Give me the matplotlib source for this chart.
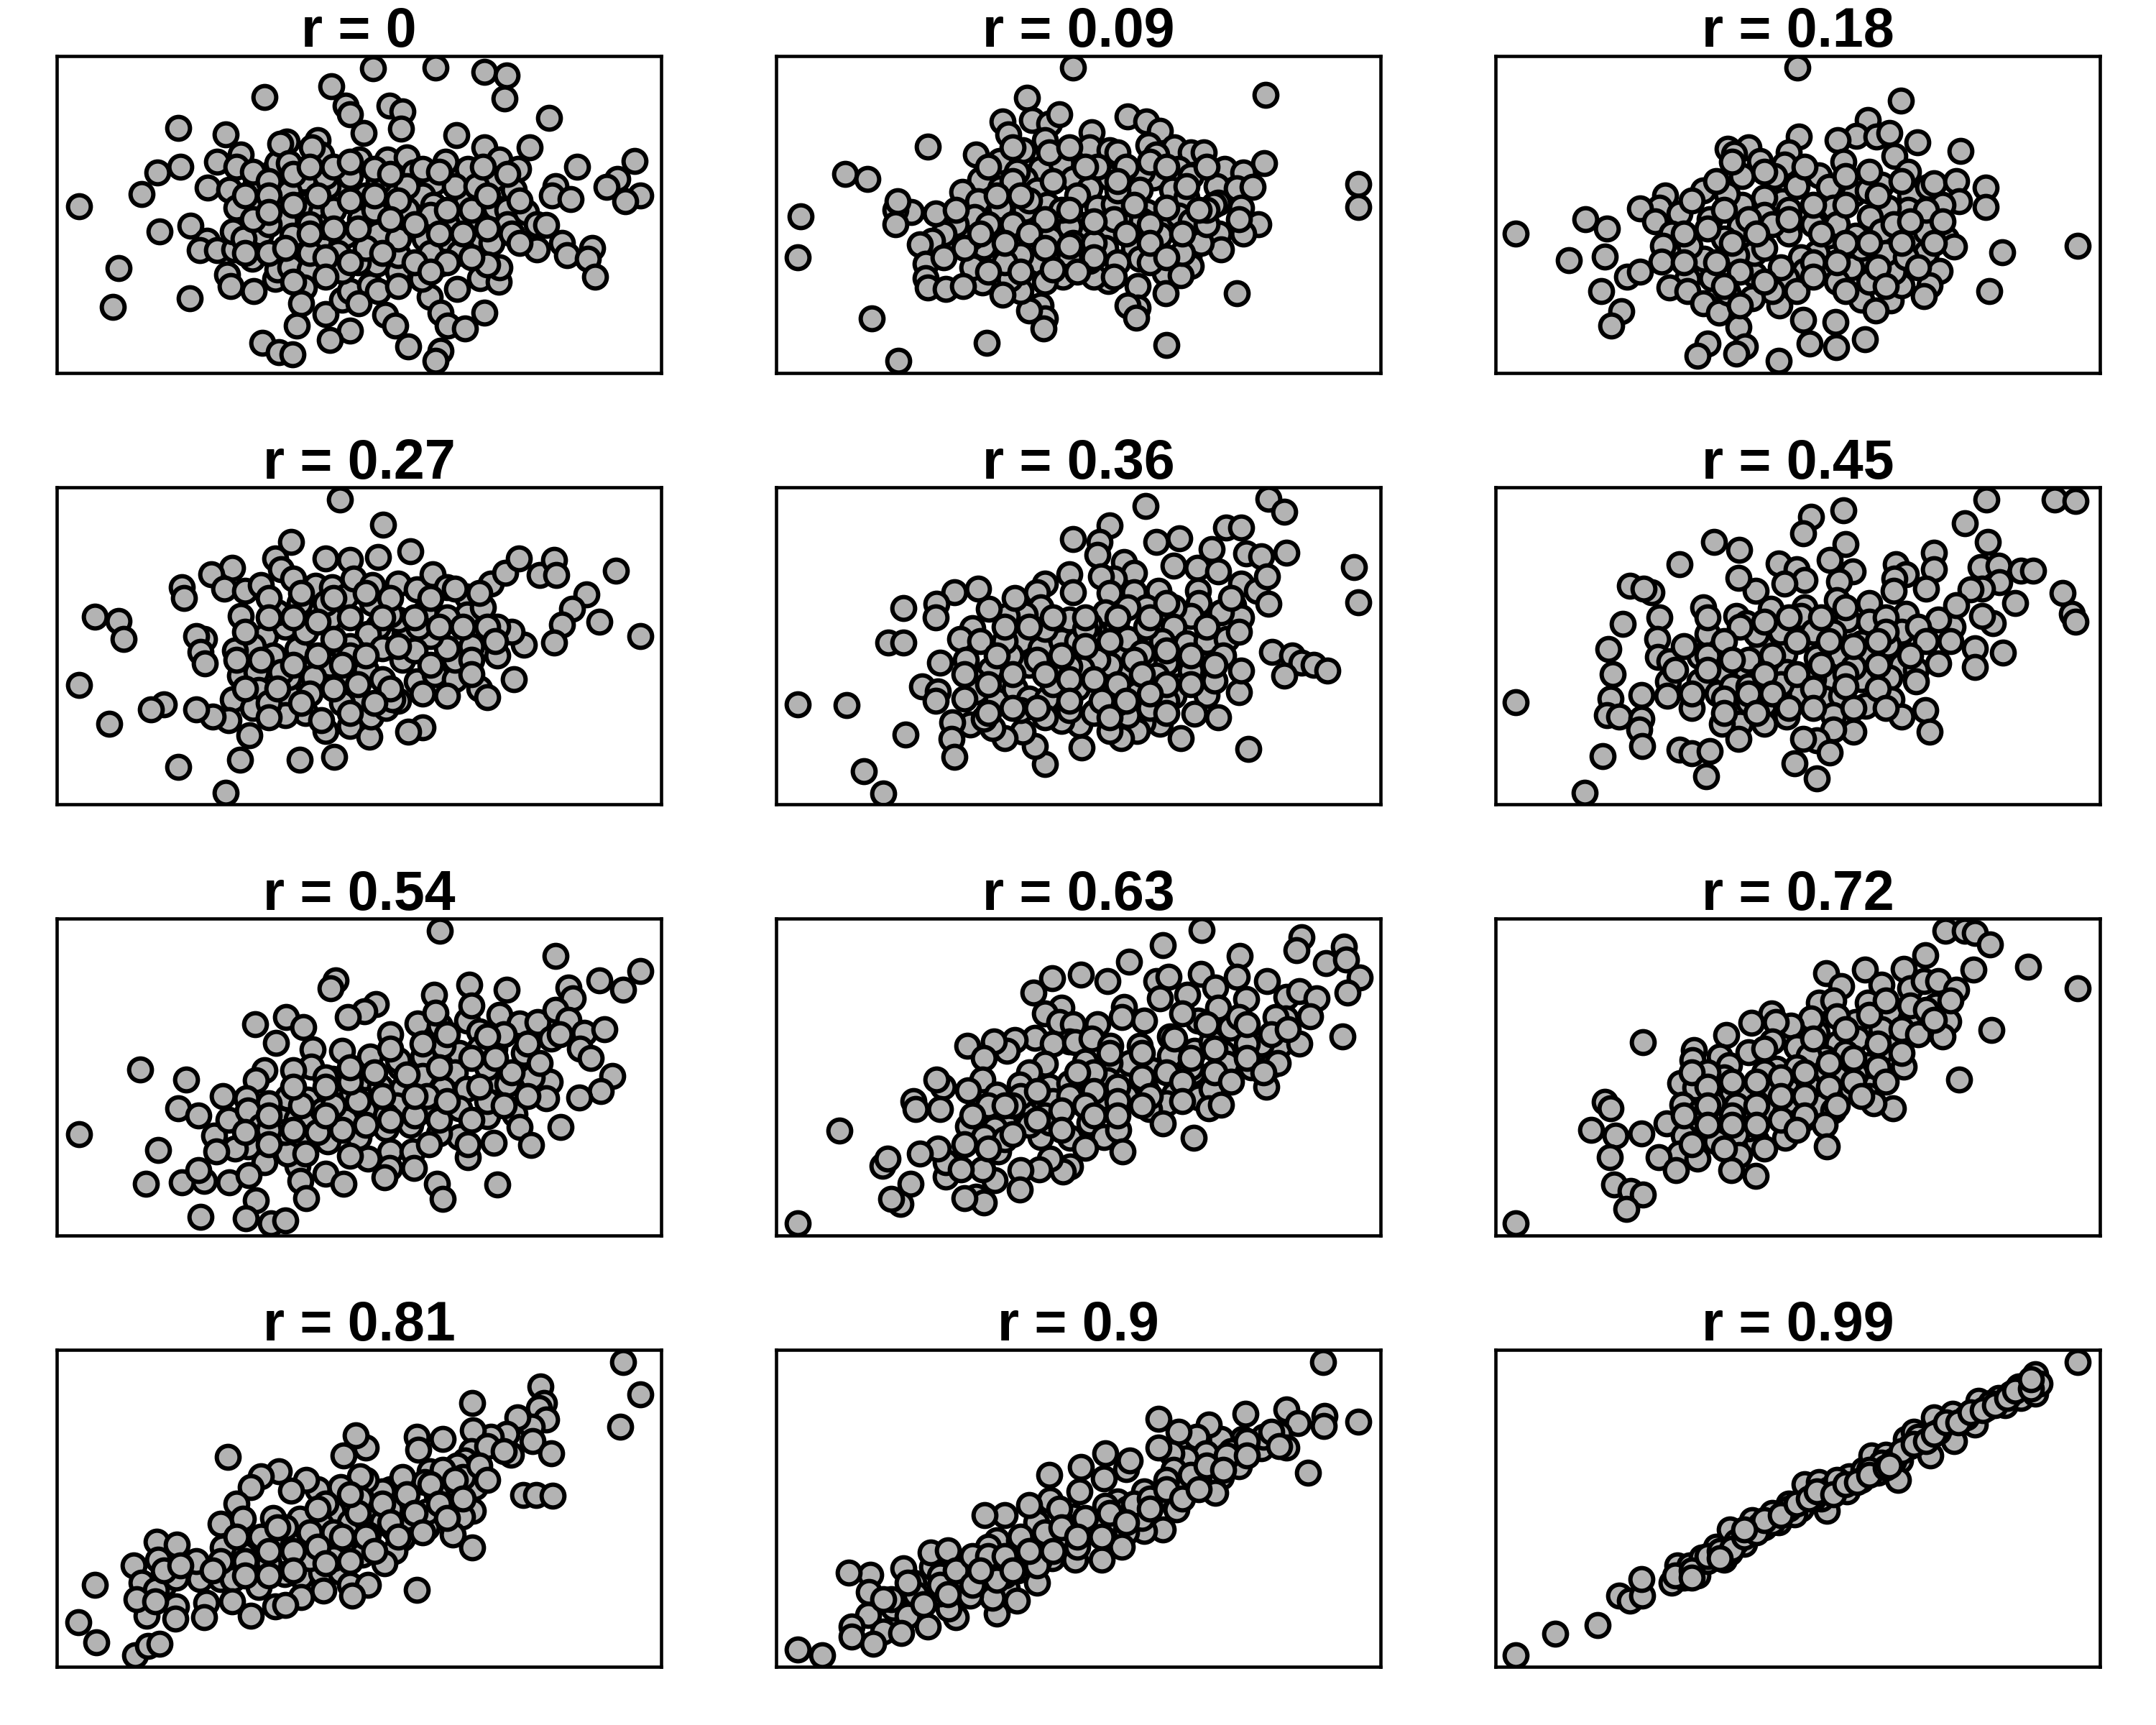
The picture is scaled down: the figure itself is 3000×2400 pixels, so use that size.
import matplotlib
matplotlib.use("Agg")
import matplotlib.pyplot as plt
from matplotlib.transforms import offset_copy

plt.rcParams["font.family"] = ["Liberation Sans", "DejaVu Sans"]

# Panel titles (correlation coefficients)
titles = ["r = 0", "r = 0.09", "r = 0.18", "r = 0.27", "r = 0.36", "r = 0.45",
          "r = 0.54", "r = 0.63", "r = 0.72", "r = 0.81", "r = 0.9", "r = 0.99"]

# Point values (x, y), on a common 0..1400 reading scale
pts_r000 = [(818,1290),(972,1295),(1092,1275),(1148,1260),(1142,1165),(714,1215),(548,1172),(750,1135),(760,1100),(858,1135),(890,1110),(886,1040),(794,1022),(1252,1085),(336,1042),(1024,1012),(452,1015),(1092,962),(1205,960),(1322,880),(1465,905),(1422,830),(1395,795),(1478,760),(1442,735),(1268,800),(1260,760),(1306,745),(90,715),(244,765),(284,855),(340,880),(408,792),(432,900),(490,930),(462,785),(508,735),(480,710),(540,710),(528,810),(570,860),(580,895),(604,985),(588,975),(610,895),(646,825),(680,990),(690,930),(666,960),(610,775),(640,720),(600,700),(600,655),(690,690),(742,765),(706,800),(784,910),(852,910),(900,920),(918,855),(858,780),(852,700),(786,660),(832,820),(968,815),(940,760),(966,720),(996,900),(1052,870),(1048,730),(1020,800),(1130,910),(1176,870),(1116,830),(1166,785),(1120,710),(1150,700),(1150,640),(1196,690),(1222,640),(1246,635),(1074,800),(1030,660),(1075,645),(1086,580),(1110,560),(290,610),(366,632),(406,570),(388,530),(432,530),(474,535),(470,610),(540,600),(518,495),(498,580),(618,590),(684,570),(700,630),(750,595),(830,600),(898,625),(946,580),(996,575),(1030,520),(1222,535),(1284,560),(1298,510),(1360,540),(1348,495),(1366,420),(188,455),(174,295),(364,330),(456,430),(466,380),(522,360),(576,410),(580,450),(612,460),(660,450),(646,375),(640,310),(700,265),(628,215),(740,325),(760,360),(810,385),(830,360),(782,310),(760,195),(710,155),(544,145),(584,105),(618,95),(848,260),(872,215),(904,130),(984,110),(972,70),(958,335),(938,410),(982,475),(1026,370),(1082,415),(1128,400),(1130,460),(1092,270),(984,270),(1002,215),(1044,205),(880,440),(826,475),(880,510),(780,480),(730,520),(740,445),(1100,470),(700,840),(760,840),(800,760),(900,700),(560,640),(660,640),(820,700),(900,800),(1000,640),(720,700),(800,540),(960,520),(560,520),(660,520),(880,580),
            (480,880),(520,860),(560,820),(620,850),(660,880),(720,880),(760,900),(820,870),(860,850),(940,870),(980,860),(1090,880),(1150,850),(500,760),(560,760),(620,720),(680,760),(760,740),(820,760),(880,740),(960,680),(1000,700),(1060,700),(1100,760),(1180,740),(520,660),(560,690),(660,600),(720,620),(780,620),(860,660),(920,640),(980,600),(1040,600),(1100,620),(1160,600),(500,520),(600,540),(700,500),(760,480),(840,520),(920,480),(1000,480),(1060,500),(1180,560),(620,400),(700,420),(880,380),(960,440)]

pts_r009 = [(770,1295),(1245,1180),(655,1168),(410,965),(205,850),(260,828),(95,672),(88,502),(272,245),(555,145),(338,70),(1000,135),(1175,352),(1475,808),(1475,712),(1242,895),(595,1070),(668,1075),(710,1060),(735,1100),(610,1015),(700,990),(645,950),(530,930),(588,905),(690,870),(740,895),(770,830),(650,830),(630,860),(540,825),(590,790),(680,780),(496,775),(535,735),(590,710),(650,700),(705,720),(815,1025),(810,960),(860,950),(880,940),(905,1090),(950,1070),(985,1030),(955,970),(1020,960),(1060,940),(1092,940),(1145,870),(1190,855),(1125,800),(1175,790),(1213,795),(1030,870),(968,835),(940,860),(860,835),(810,790),(935,785),(1015,785),(1050,750),(1128,730),(1185,710),(1118,720),(1210,635),(1228,640),(1190,600),(1130,600),(1135,535),(1055,500),(1085,560),(1060,465),(1000,630),(1030,675),(1060,650),(952,690),(898,665),(830,710),(870,725),(800,635),(760,630),(850,600),(850,540),(940,655),(985,595),(920,540),(935,495),(996,435),(1035,425),(998,350),(930,382),(930,290),(905,300),(926,250),(856,402),(820,420),(810,485),(760,500),(745,420),(712,580),(685,480),(640,510),(700,400),(690,300),(700,245),(696,205),(660,280),(640,360),(612,410),(595,345),(545,395),(520,460),(575,495),(548,545),(518,585),(590,610),(525,670),(480,640),(450,600),(420,570),(390,555),(405,475),(405,415),(410,375),(455,370),(497,380),(430,685),(370,690),(330,700),(335,735),(330,640),(560,640),(620,640),(660,740),(880,780),(780,760),(740,700),(870,660),(1000,710),(1060,840),(1100,640),(770,560),(820,560),(960,480),(880,480),(600,480),(1040,520),(975,930),(710,940),(760,550),
            (620,960),(760,960),(830,880),(900,880),(960,900),(1000,880),(1100,880),(560,880),(620,820),(720,820),(800,880),(880,820),(1050,800),(1100,700),(1180,660),(480,700),(580,760),(640,760),(700,660),(760,700),(820,650),(920,720),(960,640),(1040,600),(1080,700),(450,500),(500,540),(540,600),(600,560),(660,600),(700,540),(820,500),(900,600),(960,560),(1000,500),(640,440),(720,450),(780,440),(870,420),(560,440)]

pts_r018 = [(782,1295),(1038,1155),(955,1075),(928,1010),(978,1005),(1010,1020),(882,992),(786,1005),(1078,982),(1185,945),(1022,925),(1055,860),(895,900),(610,955),(660,960),(625,935),(690,905),(760,940),(750,890),(725,840),(645,840),(835,845),(860,795),(920,765),(990,805),(955,780),(1060,760),(1105,795),(1120,810),(1175,820),(1248,792),(1248,712),(1182,735),(1140,720),(1055,700),(1005,710),(962,670),(870,710),(816,685),(745,735),(700,750),(645,720),(608,765),(548,780),(580,820),(455,760),(440,710),(392,705),(490,685),(430,650),(565,660),(640,630),(700,680),(760,600),(858,590),(925,590),(990,610),(1020,640),(1060,580),(1100,610),(1150,580),(1170,545),(1100,520),(1288,522),(1475,550),(1133,445),(1108,385),(1095,340),(1012,320),(1040,385),(1020,440),(965,470),(915,460),(860,470),(830,520),(790,500),(800,445),(755,415),(738,300),(720,360),(670,330),(675,430),(675,520),(630,510),(570,415),(550,495),(515,550),(470,600),(450,550),(446,482),(510,410),(466,375),(510,360),(548,310),(588,270),(610,355),(636,210),(652,130),(630,100),(560,140),(535,90),(735,70),(795,240),(812,140),(875,230),(878,125),(948,160),(940,325),(975,280),(1256,360),(85,600),(258,660),(310,620),(216,490),(305,505),(360,420),(393,440),(297,360),(346,275),(322,215),(780,360),(880,400),(960,400),(820,640),(720,640),(940,540),(1000,520),(600,580),(700,540),(780,800),(880,640),(1050,500),
            (620,900),(700,860),(800,880),(900,840),(960,860),(1040,820),(1100,700),(520,740),(600,700),(660,660),(760,700),(820,720),(900,720),(980,760),(1060,650),(1140,650),(500,600),(560,620),(620,560),(680,600),(760,660),(840,600),(900,560),(960,560),(1040,560),(1120,560),(500,480),(580,480),(640,440),(740,460),(820,480),(880,480),(980,460),(1080,460),(600,380),(700,400),(820,420),(900,360),(1000,380),(640,300)]

pts_r027 = [(735,1292),(842,1185),(615,1115),(910,1075),(575,1045),(700,1045),(760,1040),(830,1050),(468,1005),(418,980),(450,920),(500,910),(540,935),(590,1000),(620,960),(345,925),(350,880),(130,802),(188,785),(200,710),(490,805),(550,720),(600,760),(635,860),(675,930),(715,925),(750,885),(770,960),(815,935),(815,860),(880,940),(925,915),(965,980),(1000,925),(1050,885),(1108,940),(1145,985),(1178,1045),(1230,975),(1265,1040),(1270,975),(1418,995),(1345,895),(1310,835),(1285,770),(1378,780),(1478,720),(1265,695),(1190,685),(1160,740),(1125,760),(1125,640),(1050,810),(1000,800),(945,820),(895,730),(880,790),(860,810),(830,760),(805,730),(760,680),(710,795),(720,710),(630,665),(570,640),(520,680),(475,660),(400,710),(380,720),(390,655),(402,605),(488,555),(530,570),(535,495),(470,455),(520,420),(460,370),(420,385),(380,415),(300,435),(268,415),(165,355),(90,515),(512,305),(488,205),(335,175),(452,65),(635,205),(722,215),(700,325),(760,345),(808,300),(812,385),(940,340),(905,320),(850,420),(880,450),(865,455),(780,465),(740,520),(710,600),(670,550),(610,470),(610,550),(650,400),(600,390),(690,370),(800,580),(890,620),(925,530),(970,560),(1020,540),(1000,470),(1080,500),(1100,465),(1165,540),(1020,620),(1000,670),(960,720),(1060,680),(920,660),(760,640),(590,570),(560,440),(740,440),(840,540),(650,740),(840,670),(930,760),(1090,840),(700,860),(580,820),
            (560,880),(640,900),(720,880),(800,900),(860,880),(960,880),(1020,920),(1080,900),(500,740),(560,800),(620,800),(680,780),(760,800),(840,800),(920,800),(980,760),(1040,760),(1100,760),(480,620),(540,620),(620,600),(680,640),(740,600),(800,640),(880,680),(960,600),(1060,620),(1120,700),(500,500),(580,500),(660,480),(720,500),(780,520),(860,500),(940,480),(1060,560),(560,380),(640,440),(760,400),(820,440)]

pts_r036 = [(948,1265),(1252,1295),(1292,1240),(860,1182),(770,1125),(835,1115),(830,1060),(975,1115),(1032,1130),(1148,1175),(1185,1175),(1113,1085),(1198,1065),(1235,1055),(1298,1070),(1465,1010),(1475,862),(1018,1015),(1076,1005),(1128,990),(895,1030),(920,985),(870,960),(838,970),(760,980),(700,940),(680,905),(770,905),(860,900),(920,905),(980,910),(1078,910),(1185,940),(1225,910),(1250,970),(1252,855),(1165,850),(1185,800),(1135,820),(1080,860),(1060,805),(1018,840),(1018,760),(950,840),(905,840),(875,760),(850,820),(810,770),(760,790),(690,840),(650,810),(605,805),(626,880),(562,835),(535,920),(475,905),(432,855),(430,800),(350,837),(312,695),(350,695),(520,755),(490,710),(640,700),(690,670),(740,700),(780,700),(840,640),(880,660),(905,710),(940,650),(990,700),(1050,690),(1100,700),(1150,710),(1140,640),(1082,610),(1060,575),(1000,610),(975,555),(905,570),(860,600),(830,620),(790,585),(760,595),(712,590),(660,600),(615,640),(565,580),(505,620),(440,610),(395,510),(435,490),(520,540),(530,490),(580,450),(625,500),(660,460),(705,460),(720,520),(780,505),(855,485),(928,480),(1030,510),(1018,470),(1100,475),(1120,535),(1180,485),(1185,575),(1262,655),(1312,640),(1335,610),(1365,600),(1398,575),(1292,555),(1070,395),(1128,380),(1035,295),(1203,250),(985,355),(942,360),(928,325),(888,295),(860,325),(825,405),(905,390),(790,255),(785,350),(740,365),(760,410),(700,185),(675,260),(645,320),(600,295),(570,335),(515,350),(548,375),(470,360),(468,290),(475,215),(430,450),(355,310),(252,155),(300,62),(210,432),(88,435),(640,410),(700,380),(820,400),(880,440),(960,420),(600,700),(700,750),(800,750),(950,760),(1000,450),
            (600,760),(660,760),(720,800),(800,800),(880,800),(960,800),(1100,760),(1180,740),(540,700),(580,640),(680,620),(740,640),(800,680),(860,700),(920,620),(1000,660),(1060,640),(1120,600),(500,560),(560,520),(620,560),(700,560),(760,540),(820,540),(880,520),(940,560),(1000,520),(1060,520),(500,460),(560,400),(620,420),(680,420),(760,450),(840,450),(900,450),(960,480),(860,380),(1000,400),(1160,880),(1000,860)]

pts_r045 = [(1250,1290),(1418,1290),(1470,1285),(895,1245),(815,1220),(795,1150),(1196,1192),(1252,1115),(900,1105),(575,1115),(638,1080),(490,1022),(735,1025),(780,1000),(862,1040),(918,990),(885,950),(800,955),(750,940),(678,910),(636,965),(1025,1020),(1050,980),(1022,960),(1120,1070),(1120,1000),(1235,1010),(1280,1015),(1335,995),(1365,995),(1282,945),(1238,920),(1210,915),(1320,860),(1438,900),(1460,815),(1470,780),(1265,775),(1238,805),(1165,760),(1175,850),(1130,790),(1100,920),(1020,910),(960,860),(1050,815),(1040,740),(1005,685),(940,690),(905,790),(870,735),(800,840),(790,805),(740,740),(715,835),(630,805),(655,775),(548,840),(560,730),(440,800),(435,710),(350,772),(368,930),(420,905),(402,920),(314,667),(437,632),(465,615),(540,635),(590,660),(695,680),(750,645),(830,630),(888,635),(960,640),(1040,600),(1075,580),(1075,530),(1130,605),(1220,670),(1290,650),(1220,590),(1010,545),(940,540),(860,540),(820,540),(755,570),(690,590),(650,570),(600,570),(540,530),(462,530),(460,470),(395,475),(325,560),(320,460),(310,390),(340,385),(395,375),(390,330),(398,260),(520,420),(585,480),(620,510),(660,445),(700,435),(750,450),(790,480),(850,460),(890,470),(950,430),(1015,455),(1040,385),(1098,410),(1108,320),(920,320),(870,390),(870,330),(830,285),(862,235),(795,290),(775,190),(830,125),(755,385),(700,355),(640,355),(595,355),(635,290),(490,245),(520,230),(565,240),(555,135),(300,220),(255,65),(85,445),(560,640),(820,740),(960,780),(680,730),(740,520),(920,590),(1000,800),(880,870),(660,510),
            (560,800),(640,760),(700,780),(760,800),(840,800),(900,840),(1000,740),(1080,760),(1160,700),(600,700),(660,620),(720,640),(780,700),(860,700),(920,680),(980,700),(1100,700),(500,680),(480,580),(560,580),(620,620),(700,560),(780,560),(840,600),(900,560),(980,600),(1060,640),(520,480),(600,460),(660,480),(720,480),(820,500),(900,510),(980,500),(600,400),(680,400),(760,420),(820,420),(920,420),(1000,420)]

pts_r054 = [(982,1292),(1268,1185),(1478,1122),(1378,1085),(1435,1045),(1300,1055),(1312,1010),(1148,1045),(1055,1065),(968,1025),(725,1085),(712,1050),(825,985),(795,955),(755,930),(525,900),(602,930),(645,890),(578,822),(860,860),(928,905),(982,895),(972,950),(1050,915),(1060,980),(1130,940),(1180,905),(1225,910),(1268,960),(1300,920),(1340,865),(1390,880),(1258,840),(1330,800),(1355,760),(1410,685),(1380,620),(1328,595),(1255,660),(1245,590),(1210,680),(1190,780),(1118,800),(1140,860),(1080,870),(1030,780),(990,810),(942,765),(885,720),(810,765),(740,790),(668,795),(665,725),(620,710),(548,710),(528,665),(718,672),(798,680),(940,685),(1020,700),(1048,630),(1118,665),(1100,720),(990,630),(890,630),(835,640),(765,610),(700,600),(655,585),(605,595),(560,570),(505,590),(445,600),(355,670),(242,712),(335,550),(385,520),(425,435),(460,500),(508,540),(540,475),(590,500),(628,505),(660,482),(692,540),(795,540),(875,560),(955,540),(1030,550),(1100,515),(1168,525),(1180,470),(1282,470),(1208,395),(1115,405),(1030,430),(980,445),(910,480),(850,465),(782,430),(705,410),(640,430),(588,390),(508,390),(475,380),(430,370),(548,325),(630,310),(605,360),(700,275),(745,235),(638,245),(652,175),(805,340),(860,370),(915,370),(955,400),(918,300),(858,300),(845,260),(1052,345),(975,235),(990,170),(1125,230),(1052,400),(462,240),(400,245),(345,240),(385,290),(255,235),(285,375),(90,442),(510,270),(528,165),(390,95),(502,90),(565,70),(600,80),(700,680),(750,500),(850,520),(950,600),(1150,650),(1080,800),(760,350),(880,750),(1100,580),(600,450),
            (500,450),(560,460),(620,460),(680,450),(740,460),(800,480),(860,500),(920,520),(980,500),(1060,500),(1140,560),(1200,600),(560,520),(640,560),(720,560),(780,580),(840,600),(920,600),(1000,580),(1080,640),(1160,700),(1230,740),(620,640),(700,640),(760,660),(820,700),(900,690),(980,720),(1060,760),(1120,760),(1200,820),(1280,860),(760,720),(860,800),(940,820),(1000,860),(1100,850),(700,520),(560,400),(650,360)]

pts_r063 = [(1088,1295),(992,1230),(908,1162),(1335,1265),(1322,1210),(1440,1225),(1395,1155),(1445,1170),(1478,1095),(1448,1032),(1182,1185),(788,1108),(855,1082),(718,1092),(672,1032),(740,970),(700,945),(735,910),(895,972),(975,1082),(1005,1100),(985,1010),(1052,1025),(1085,1110),(1122,1055),(1175,1100),(1198,1005),(1250,1080),(1298,1015),(1330,1040),(1372,1010),(1355,935),(1295,925),(1270,930),(1128,970),(1158,885),(1180,930),(1078,915),(1040,945),(945,915),(890,930),(830,900),(770,900),(760,830),(675,845),(625,835),(605,790),(573,830),(508,810),(548,760),(720,820),(775,825),(815,840),(862,810),(935,810),(1010,850),(1070,790),(1112,830),(1140,780),(1150,735),(1210,720),(1248,640),(1260,730),(1280,810),(1235,820),(1330,820),(1435,850),(1275,740),(1066,700),(1010,770),(965,710),(910,740),(860,740),(800,745),(700,735),(660,700),(638,648),(545,670),(510,625),(448,640),(432,670),(580,605),(710,640),(760,655),(855,665),(950,625),(1020,610),(1080,595),(1112,630),(1105,550),(1135,565),(1000,570),(958,545),(868,550),(840,595),(780,580),(720,580),(650,530),(600,485),(575,465),(510,475),(375,580),(380,545),(440,545),(548,430),(585,370),(600,420),(690,430),(712,490),(762,425),(810,490),(845,430),(882,460),(892,370),(800,385),(762,305),(745,285),(712,340),(685,295),(640,290),(638,210),(575,250),(545,295),(530,180),(548,155),(500,175),(455,265),(455,325),(492,295),(435,380),(390,360),(368,235),(342,150),(320,170),(298,310),(310,340),(192,455),(88,70),(992,485),(1068,425),(640,600),(900,600),(820,700),(1060,720),(700,520),
            (560,560),(620,560),(680,620),(760,600),(820,620),(880,640),(940,680),(1000,700),(1060,760),(1120,800),(1200,820),(1260,860),(520,520),(600,560),(660,480),(740,540),(800,560),(880,580),(960,600),(1040,660),(1120,700),(1200,760),(1300,880),(500,400),(560,380),(620,440),(680,500),(740,460),(820,520),(880,520),(940,560),(1040,580),(1160,660),(1240,700),(780,700),(860,780),(940,780),(1020,840),(1100,900),(1200,900)]

pts_r072 = [(1148,1292),(1195,1290),(1220,1282),(1258,1235),(1098,1190),(1218,1128),(1352,1142),(1475,1050),(852,1115),(890,1060),(948,1130),(1045,1132),(990,1065),(1060,1050),(1095,1080),(1130,1080),(1175,1045),(1125,980),(1155,912),(1095,880),(1140,850),(1062,945),(1010,955),(955,990),(835,990),(870,1000),(925,910),(880,935),(830,865),(815,925),(765,895),(718,945),(668,908),(728,910),(720,830),(780,805),(882,820),(930,840),(990,790),(1030,835),(1045,725),(975,655),(955,730),(925,695),(852,710),(850,760),(810,770),(730,715),(660,785),(605,855),(590,765),(612,730),(525,792),(522,750),(492,655),(530,635),(580,640),(620,610),(660,610),(720,640),(760,625),(810,640),(840,560),(870,540),(915,630),(960,600),(1018,550),(970,570),(1262,878),(1182,670),(400,825),(305,575),(320,550),(272,460),(332,435),(395,445),(458,485),(498,565),(540,535),(572,570),(630,560),(705,545),(752,530),(795,505),(850,480),(855,390),(752,425),(680,415),(660,465),(630,440),(580,410),(500,435),(490,360),(535,340),(438,345),(482,290),(318,345),(638,355),(618,290),(678,268),(328,230),(370,205),(400,190),(358,130),(85,70),(700,700),(780,720),(880,680),(600,680),(560,700),(900,780),(990,880),(1060,980),(700,800),(760,580),
            (520,700),(560,640),(620,660),(680,660),(740,680),(800,700),(860,740),(920,760),(980,820),(1040,880),(1100,960),(560,560),(620,520),(680,560),(740,600),(800,600),(860,640),(920,660),(980,720),(1040,780),(1080,860),(500,520),(560,480),(620,480),(680,480),(740,500),(800,520),(880,560),(940,600),(1000,660),(1120,920),(1160,1000),(520,400),(600,380),(700,380),(780,460),(820,840),(900,880),(960,940),(1000,1000)]

pts_r081 = [(1435,1292),(1478,1155),(1428,1022),(1232,1190),(1240,1120),(1228,1100),(1245,1050),(1210,1020),(1212,960),(1258,910),(1175,1060),(1062,1120),(1158,905),(1148,990),(1108,980),(1065,1005),(990,970),(925,980),(930,925),(1060,920),(1045,880),(1075,855),(1025,860),(958,835),(1070,770),(1005,760),(975,735),(945,790),(1040,810),(1188,735),(1220,735),(1262,732),(1065,670),(1038,645),(1015,570),(1062,515),(950,600),(950,665),(890,705),(860,760),(890,810),(840,750),(800,800),(785,815),(800,935),(775,985),(745,900),(785,720),(718,665),(738,770),(680,760),(652,800),(615,755),(585,835),(540,815),(515,770),(458,895),(480,700),(440,615),(495,635),(570,640),(635,635),(690,610),(760,620),(800,635),(840,620),(868,595),(890,555),(870,500),(845,450),(805,570),(790,485),(740,525),(710,540),(650,545),(608,540),(565,545),(495,490),(445,515),(282,540),(332,528),(285,465),(225,440),(245,370),(300,360),(280,340),(330,390),(388,385),(440,385),(470,385),(510,400),(535,350),(598,405),(640,395),(690,410),(738,415),(760,360),(805,360),(765,315),(695,335),(640,310),(575,270),(600,275),(515,230),(468,290),(405,285),(400,225),(330,270),(328,220),(258,230),(232,300),(278,290),(130,360),(88,205),(132,120),(228,65),(260,105),(290,115),(925,340),(660,470),(560,450),(720,470),(900,640),(700,700),(860,680),(990,840),(1100,940),
            (480,560),(540,560),(600,600),(660,580),(720,580),(780,660),(840,700),(900,740),(960,780),(1020,800),(1080,860),(1140,920),(440,460),(500,460),(560,500),(620,500),(680,520),(740,560),(800,560),(860,620),(920,660),(980,700),(1040,720),(1100,800),(380,460),(420,420),(500,400),(560,400),(620,420),(700,450),(760,460),(820,500),(880,560),(940,580),(1000,640),(300,420),(340,440),(580,600),(680,680),(760,740)]

pts_r090 = [(1388,1292),(1475,1042),(1392,1065),(1390,1025),(1298,1092),(1325,1035),(1350,830),(1195,1075),(1280,990),(1298,935),(1235,930),(1188,970),(1180,855),(1150,895),(1135,970),(1105,1030),(1075,980),(1098,910),(1135,810),(1122,745),(1062,805),(1048,890),(1030,1000),(1012,910),(980,935),(980,1055),(1018,840),(1022,760),(1025,675),(978,730),(945,750),(992,590),(945,585),(900,845),(910,880),(850,910),(845,805),(788,852),(710,820),(712,715),(785,750),(880,710),(905,680),(850,690),(845,610),(820,625),(770,645),(735,680),(678,620),(660,695),(600,650),(550,650),(580,545),(635,545),(730,555),(800,580),(900,580),(890,520),(840,465),(775,465),(718,470),(685,465),(632,420),(605,345),(630,295),(580,240),(570,305),(532,450),(505,385),(515,315),(480,225),(462,260),(440,325),(420,435),(418,495),(460,505),(350,430),(375,370),(268,402),(215,410),(265,330),(325,265),(360,230),(262,235),(222,185),(222,145),(300,165),(345,160),(410,185),(275,115),(88,90),(148,65),(680,370),(710,520),(780,520),(560,520),(940,640),(1000,800),(1160,920),(1240,980),(640,450),(760,600),(600,400),(440,400),
            (320,300),(380,320),(440,360),(480,420),(520,480),(560,480),(600,480),(640,560),(700,580),(740,600),(800,640),(860,660),(920,700),(960,720),(1000,760),(1060,820),(1100,860),(1150,900),(1200,960),(1260,1000),(400,280),(460,320),(520,360),(580,380),(620,420),(680,440),(720,500),(780,560),(840,560),(900,620),(960,680),(1040,720),(1080,760),(1140,840),(1200,900),(1280,940),(360,370),(300,300),(540,420),(660,500)]

pts_r099 = [(85,65),(182,155),(288,192),(340,315),(368,295),(398,315),(395,385),(470,370),(485,440),(515,440),(535,400),(545,475),(580,520),(600,465),(615,495),(615,590),(650,530),(670,630),(690,610),(720,660),(735,620),(760,700),(790,680),(775,655),(800,780),(835,790),(855,670),(840,720),(880,770),(905,750),(910,815),(945,840),(965,900),(980,830),(1000,905),(1035,880),(1030,800),(1050,970),(1070,1000),(1095,960),(1110,900),(1120,1060),(1150,1010),(1165,1075),(1170,960),(1220,1030),(1230,1130),(1250,1100),(1280,1140),(1295,1110),(1330,1190),(1335,1140),(1370,1240),(1370,1160),(1475,1292),(560,460),(630,540),(700,600),(760,680),(820,720),(860,760),(940,800),(990,870),(1060,940),(1130,1000),(1200,1060),(1260,1120),(1310,1160),(1350,1200),(1380,1200),(500,390),(720,620),(880,800),(960,840),(1080,980),
            (480,400),(520,420),(560,480),(590,500),(620,510),(650,560),(680,580),(700,630),(740,650),(780,700),(810,720),(830,750),(870,740),(900,780),(930,790),(960,820),(1000,850),(1020,880),(1040,920),(1070,950),(1100,960),(1120,990),(1150,1040),(1180,1040),(1210,1080),(1240,1090),(1270,1110),(1300,1140),(1320,1170),(1360,1180),(1360,1220),(1010,860),(520,390),(590,470),(650,590)]

panels = [pts_r000, pts_r009, pts_r018, pts_r027, pts_r036, pts_r045,
          pts_r054, pts_r063, pts_r072, pts_r081, pts_r090, pts_r099]

fig = plt.figure(figsize=(10, 8), dpi=300)
fig.patch.set_facecolor("white")

col_left = [79 / 3000, 1080 / 3000, 2081 / 3000]
row_bottom = [1 - 519 / 2400, 1 - 1119 / 2400, 1 - 1719 / 2400, 1 - 2319 / 2400]
ax_w = 841 / 3000
ax_h = 441 / 2400

for i, (pts, title) in enumerate(zip(panels, titles)):
    r, c = divmod(i, 3)
    ax = fig.add_axes([col_left[c], row_bottom[r], ax_w, ax_h])
    xs = [p[0] for p in pts]
    ys = [p[1] for p in pts]
    ax.scatter(xs, ys, s=7.6 ** 2, facecolor="#B3B3B3", edgecolor="black",
               linewidths=1.45, zorder=2)
    ax.set_xlim(35, 1530)
    ax.set_ylim(18, 1342)
    ax.set_xticks([])
    ax.set_yticks([])
    for sp in ax.spines.values():
        sp.set_linewidth(1.1)
        sp.set_color("black")
    tr = offset_copy(ax.transAxes, fig=fig, x=0, y=3.0, units="points")
    ax.text(0.5, 1.0, title, transform=tr, ha="center", va="baseline",
            fontsize=18.5, fontweight="bold", color="black")

fig.savefig("out.png", dpi=300, facecolor="white")
